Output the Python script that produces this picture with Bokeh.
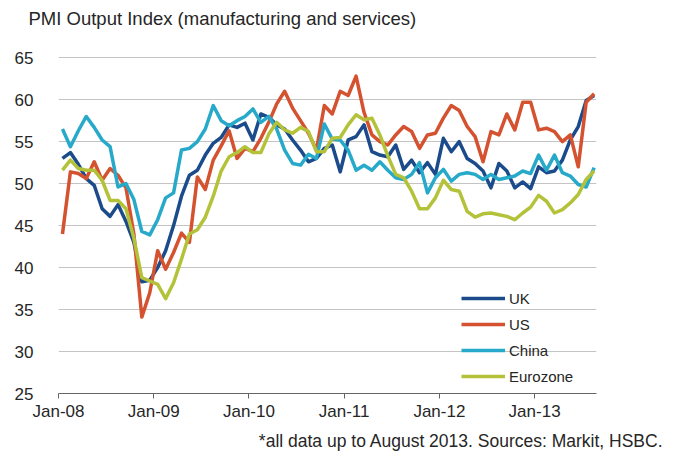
from bokeh.plotting import figure
from bokeh.models import Range1d, FixedTicker, Title, Legend, LegendItem
from bokeh.embed import file_html
from bokeh.resources import INLINE

# Monthly index: 0 = Jan-08 ... 67 = Aug-13
months = list(range(68))

uk = [53.0, 53.7, 52.3, 50.6, 49.8, 47.0, 46.1, 47.5, 45.5, 43.0,
      38.3, 38.5, 40.0, 42.0, 45.0, 48.5, 51.0, 51.6, 53.4, 54.8,
      55.5, 57.0, 56.7, 57.2, 55.2, 58.3, 57.9, 57.0, 56.5, 55.2,
      54.0, 52.6, 53.0, 54.2, 54.6, 51.4, 55.2, 55.6, 57.0, 53.8,
      53.4, 53.2, 54.6, 51.7, 52.8, 51.3, 52.5, 51.1, 55.4, 53.8,
      55.0, 53.0, 52.4, 51.5, 49.5, 52.4, 51.5, 49.5, 50.2, 49.4,
      52.0, 51.3, 51.5, 52.8, 55.2, 56.8, 59.9, 60.5]

us = [44.0, 51.4, 51.2, 50.6, 52.6, 50.4, 51.8, 51.0, 49.5, 44.0,
      34.1, 37.0, 42.0, 39.8, 41.8, 44.1, 43.0, 50.8, 49.3, 52.8,
      54.5, 56.3, 53.0, 54.2, 53.8, 55.4, 57.3, 59.5, 61.0, 59.0,
      57.5, 56.0, 54.0, 59.3, 58.3, 61.0, 60.5, 62.8, 58.5, 55.8,
      55.0, 54.6, 55.8, 56.8, 56.2, 54.2, 55.8, 56.0, 57.8, 59.3,
      58.7, 56.8, 55.6, 52.6, 56.2, 55.8, 58.3, 56.4, 59.7, 59.7,
      56.4, 56.6, 56.2, 55.0, 55.8, 52.0, 59.7, 60.7]

china = [56.5, 54.4, 56.3, 58.0, 56.7, 55.2, 54.4, 49.6, 50.0, 48.1,
         44.3, 43.9, 45.7, 48.3, 48.9, 54.0, 54.2, 55.0, 56.5, 59.3,
         57.5, 56.9, 57.5, 58.0, 58.9, 57.3, 58.0, 56.5, 54.0, 52.4,
         52.2, 53.5, 53.0, 57.1, 55.3, 55.2, 54.0, 51.6, 52.2, 51.6,
         52.6, 51.6, 50.7, 50.5, 51.1, 52.5, 48.9, 50.7, 51.7, 50.3,
         51.1, 51.3, 51.1, 50.5, 51.1, 50.5, 50.7, 50.9, 51.5, 51.2,
         53.4, 51.6, 53.4, 51.3, 50.9, 49.9, 49.6, 51.9]

eurozone = [51.6, 52.8, 51.8, 51.6, 51.6, 50.4, 48.0, 48.0, 47.0, 43.5,
            38.8, 38.4, 38.0, 36.3, 38.2, 41.0, 44.0, 44.5, 46.0, 48.5,
            51.5, 53.2, 53.7, 54.4, 53.7, 53.7, 55.9, 57.3, 56.4, 56.0,
            56.7, 56.2, 53.8, 53.8, 55.4, 55.5, 57.0, 58.2, 57.6, 57.8,
            55.8, 53.3, 51.1, 50.7, 49.1, 47.0, 47.0, 48.3, 50.4, 49.3,
            49.1, 46.7, 46.0, 46.4, 46.5, 46.3, 46.1, 45.7, 46.5, 47.2,
            48.6, 47.9, 46.5, 46.9, 47.7, 48.7, 50.5, 51.5]

series_names = ["UK", "US", "China", "Eurozone"]
series_colors = ["#1b4b8b", "#d4522f", "#27a9c9", "#b3c238"]

x_tick_pos = [-0.5, 11.5, 23.5, 35.5, 47.5, 59.5]
x_tick_labels = ["Jan-08", "Jan-09", "Jan-10", "Jan-11", "Jan-12", "Jan-13"]
y_ticks = [25, 30, 35, 40, 45, 50, 55, 60, 65]

title_text = "PMI Output Index (manufacturing and services)"
note_text = "*all data up to August 2013. Sources: Markit, HSBC."

FONT = "Liberation Sans"
TXT = "#262626"

p = figure(width=679, height=455, output_backend="svg", toolbar_location=None,
           x_range=Range1d(-0.5, 67.3), y_range=Range1d(25, 65.5),
           min_border_left=58, min_border_right=83, min_border_top=53,
           min_border_bottom=60)
p.outline_line_color = None
p.background_fill_color = "white"
p.border_fill_color = "white"

p.title.text = title_text
p.title.align = "left"
p.title.offset = -30
p.title.standoff = 10
p.title.text_font = FONT
p.title.text_font_size = "18.5px"
p.title.text_font_style = "normal"
p.title.text_color = TXT

# invisible spacer between title and plot frame
spacer = Title(text=" ", text_font_size="1px", standoff=17, text_color="white")
p.add_layout(spacer, "above")

p.xgrid.visible = False
p.ygrid.ticker = FixedTicker(ticks=y_ticks[1:])
p.ygrid.grid_line_color = "#c4c4c4"
p.ygrid.grid_line_width = 1

p.yaxis.ticker = FixedTicker(ticks=y_ticks)
p.yaxis.axis_line_color = None
p.yaxis.major_tick_line_color = None
p.yaxis.minor_tick_line_color = None
p.yaxis.major_label_standoff = 19
p.yaxis.major_label_text_font = FONT
p.yaxis.major_label_text_font_size = "17px"
p.yaxis.major_label_text_color = TXT

p.xaxis.ticker = FixedTicker(ticks=x_tick_pos)
p.xaxis.major_label_overrides = dict(zip(x_tick_pos, x_tick_labels))
p.xaxis.axis_line_color = "#666666"
p.xaxis.major_tick_line_color = "#666666"
p.xaxis.major_tick_out = 5
p.xaxis.major_tick_in = 0
p.xaxis.minor_tick_line_color = None
p.xaxis.major_label_standoff = 3
p.xaxis.major_label_text_font = FONT
p.xaxis.major_label_text_font_size = "17px"
p.xaxis.major_label_text_color = TXT

renderers = []
for name, vals, col in zip(series_names, [uk, us, china, eurozone], series_colors):
    r = p.line(months, vals, line_color=col, line_width=3.5, line_join="round")
    renderers.append(r)

legend = Legend(items=[LegendItem(label=n, renderers=[r]) for n, r in zip(series_names, renderers)],
                location=(403, 7), orientation="vertical",
                glyph_width=44, glyph_height=20, label_height=20, spacing=6,
                padding=0, margin=0, label_standoff=4,
                border_line_color=None, background_fill_alpha=0,
                label_text_font=FONT, label_text_font_size="15px", label_text_color=TXT)
p.add_layout(legend)

note = Title(text=note_text, align="right", offset=-67, text_font=FONT,
             text_font_size="17.5px", text_font_style="normal", text_color=TXT)
p.add_layout(note, "below")

open("out.html", "w").write(file_html(p, INLINE))
